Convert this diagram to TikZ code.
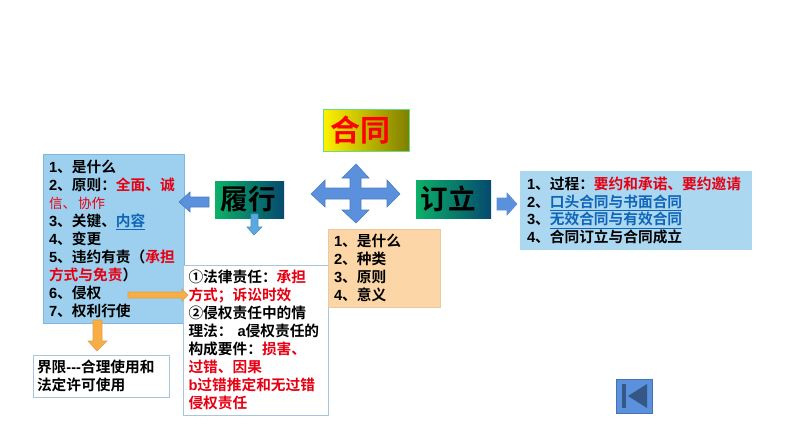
\documentclass[tikz,border=0pt]{standalone}
\usepackage{fontspec}
\setmainfont{Noto Sans CJK SC}[BoldFont={Noto Sans CJK SC Bold}]
\newfontfamily\arl{Liberation Sans}
\definecolor{skyfill}{HTML}{9DD0EE}
\definecolor{skyedge}{HTML}{7FB8DC}
\definecolor{peach}{HTML}{FDD6A8}
\definecolor{peachedge}{HTML}{E8C9A0}
\definecolor{arrowblue}{HTML}{5B90DC}
\definecolor{arrowedge}{HTML}{4A7DBE}
\definecolor{arrowlight}{HTML}{5AA8E0}
\definecolor{arroworange}{HTML}{F8AE45}
\definecolor{orangeedge}{HTML}{D9A24E}
\definecolor{boxedge}{HTML}{A8C4DE}
\definecolor{linkblue}{HTML}{0F66B8}
\definecolor{redtxt}{HTML}{E60012}
\definecolor{gradgreen}{HTML}{0CB068}
\definecolor{gradteal}{HTML}{054A6E}
\definecolor{gradyellow}{HTML}{FFF200}
\definecolor{gradolive}{HTML}{7F7F00}
\newcommand{\rd}[1]{\textcolor{redtxt}{#1}}
\newcommand{\lk}[1]{\textcolor{linkblue}{\underline{#1}}}
\newcommand{\nm}[1]{{\arl\bfseries #1}}
\tikzset{
  textbox/.style={rectangle,align=left,inner ysep=0pt,inner xsep=0pt,font=\fontsize{14.7}{17.95}\selectfont\bfseries},
  titlebox/.style={rectangle,inner sep=0pt,font=\fontsize{27.5}{30}\selectfont\bfseries,shading=axis,shading angle=90},
  greentitle/.style={titlebox,left color=gradgreen,right color=gradteal},
  blockarrow/.style={line width=0.6pt,line join=miter},
}
\begin{document}
\begin{tikzpicture}[x=1pt,y=-1pt]
\useasboundingbox (0,0) rectangle (794,447);
% text boxes
\node[textbox,fill=skyfill,draw=skyedge,line width=0.5pt,minimum width=141pt,minimum height=169pt,text width=129pt] (lists) at (113.5,239)
{\nm{1}、是什么\\\nm{2}、原则：\rd{全面、诚}\\{\mdseries\rd{\fontsize{13.5}{17.95}\selectfont 信、\,协作}}\\\nm{3}、关键、\lk{内容}\\\nm{4}、变更\\\nm{5}、违约有责（\rd{承担}\\\rd{方式与免责}）\\\nm{6}、侵权\\\nm{7}、权利行使};
\node[textbox,fill=white,draw=boxedge,line width=0.8pt,minimum width=145pt,minimum height=150pt,text width=134pt] (duty) at (255.5,340)
{①法律责任：\rd{承担}\\\rd{方式；诉讼时效}\\②侵权责任中的情\\理法： \nm{a}侵权责任的\\构成要件：\rd{损害、}\\\rd{过错、因果}\\\rd{\nm{b}过错推定和无过错}\\\rd{侵权责任}};
\node[textbox,fill=white,draw=boxedge,line width=0.8pt,minimum width=136pt,minimum height=42pt,text width=128pt] (limit) at (101,376)
{界限\nm{{-}{-}{-}}合理使用和\\法定许可使用};
\node[textbox,fill=peach,draw=peachedge,line width=0.5pt,minimum width=112pt,minimum height=78pt,text width=100pt] (kinds) at (384,268)
{\nm{1}、是什么\\\nm{2}、种类\\\nm{3}、原则\\\nm{4}、意义};
\node[textbox,fill=skyfill!85!white,minimum width=232pt,minimum height=79pt,text width=218pt] (form) at (636,210.5)
{\nm{1}、过程：\rd{要约和承诺、要约邀请}\\\nm{2}、\lk{口头合同与书面合同}\\\nm{3}、\lk{无效合同与有效合同}\\\nm{4}、合同订立与合同成立};
% title boxes
\node[titlebox,left color=gradyellow,right color=gradolive,draw=boxedge!60!green,line width=0.6pt,minimum width=86pt,minimum height=42pt,text=red,font=\fontsize{30}{32}\selectfont\bfseries] (contract) at (366,130) {\hspace*{-12pt}合同};
\node[greentitle,minimum width=69pt,minimum height=37pt] (perform) at (249.5,199.5) {\hspace*{-3pt}履行};
\node[greentitle,minimum width=75pt,minimum height=38pt] (sign) at (453.5,199) {\hspace*{-11pt}订立};
% block arrows
\draw[blockarrow,fill=arrowblue,draw=arrowedge] (356,164)--(369,178)--(361,178)--(361,188)--(387,188)--(387,180)--(400,194)--(387,207)--(387,199)--(361,199)--(361,210)--(369,210)--(356,223)--(342,210)--(350,210)--(350,199)--(325,199)--(325,207)--(311,194)--(325,180)--(325,188)--(350,188)--(350,178)--(342,178)--cycle;
\draw[blockarrow,fill=arrowblue,draw=arrowedge] (179,202)--(190,192)--(190,197)--(209,197)--(209,207)--(190,207)--(190,212)--cycle;
\draw[blockarrow,fill=arrowlight,draw=arrowlight!85!black] (251,214)--(258,214)--(258,227)--(262,227)--(254,235)--(247,227)--(251,227)--cycle;
\draw[blockarrow,fill=arrowblue,draw=arrowblue] (497,198)--(507,198)--(507,193)--(517,204)--(507,215)--(507,210)--(497,210)--cycle;
\draw[blockarrow,fill=arroworange,draw=orangeedge] (128,292)--(182,292)--(182,289)--(188,295)--(182,301)--(182,298)--(128,298)--cycle;
\draw[blockarrow,fill=arroworange,draw=orangeedge] (93,320)--(102,320)--(102,341)--(107,341)--(97,351)--(88,341)--(93,341)--cycle;
% return button
\fill[arrowblue,draw=arrowblue!80!black,line width=0.5pt] (616,379) rectangle (652,413);
\fill[black!30!arrowedge] (622,384) rectangle (626,408);
\fill[black!30!arrowedge] (628,396)--(647,384)--(647,408)--cycle;
\end{tikzpicture}
\end{document}
